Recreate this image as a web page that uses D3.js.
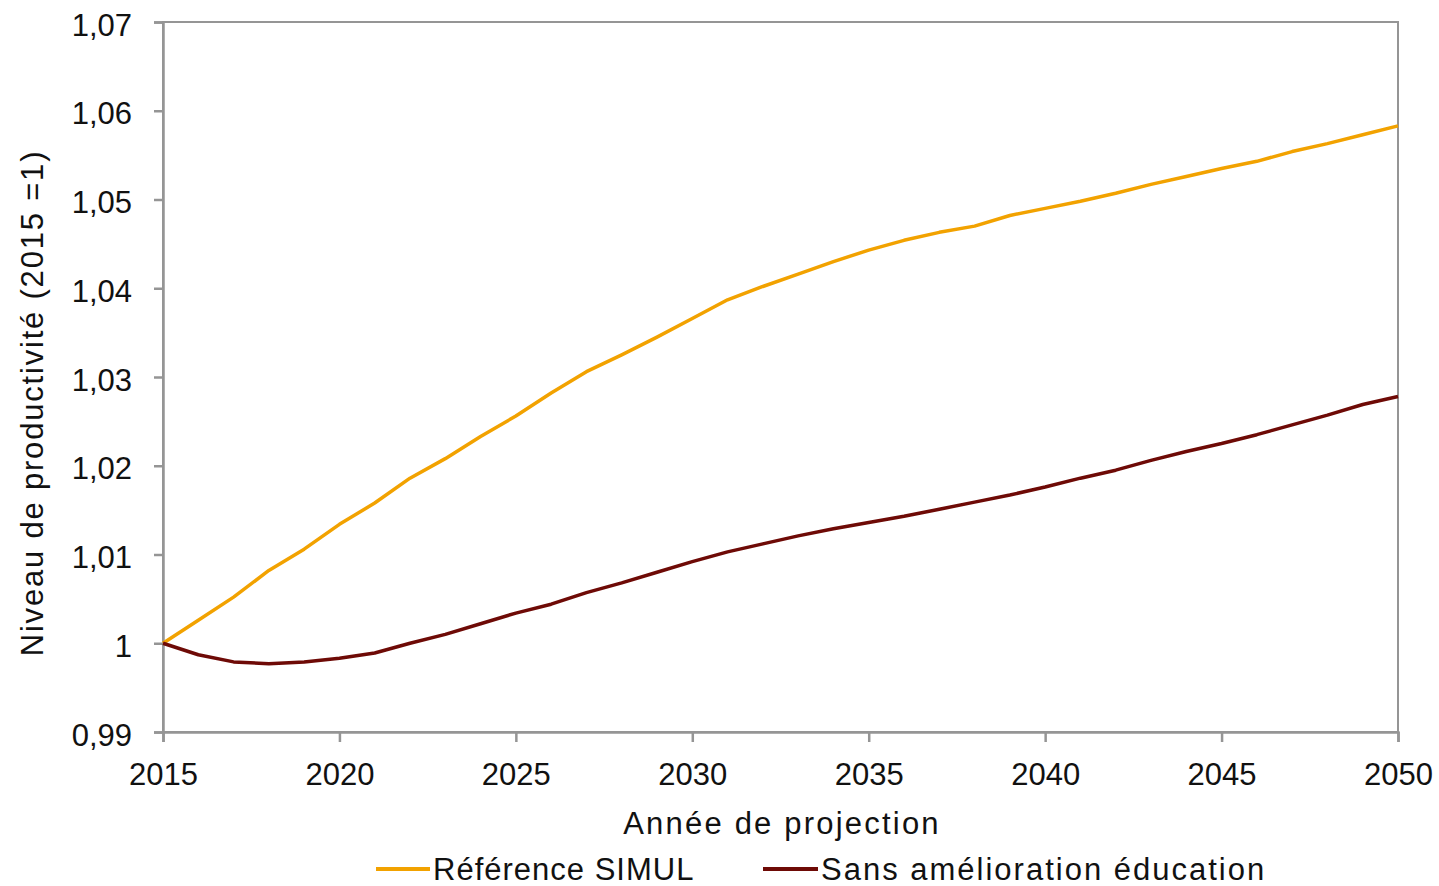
<!DOCTYPE html>
<html><head><meta charset="utf-8">
<script src="https://cdn.jsdelivr.net/npm/d3@7"></script>
<style>body{margin:0;background:#fff;} text{font-family:"Liberation Sans",Arial,sans-serif;fill:#111;}</style>
</head><body><svg id="c" width="1439" height="886"></svg>
<script>
const years = d3.range(2015, 2051);
const referenceSimul = [1.0000,1.0026,1.0052,1.0082,1.0106,1.0134,1.0158,1.0186,1.0208,1.0233,1.0256,1.0282,1.0306,1.0325,1.0345,1.0366,1.0387,1.0402,1.0416,1.0430,1.0443,1.0454,1.0463,1.0470,1.0482,1.0490,1.0498,1.0507,1.0517,1.0526,1.0535,1.0543,1.0554,1.0563,1.0573,1.0583];
const sansAmelioration = [1.0000,0.9987,0.9979,0.9977,0.9979,0.9983,0.9989,1.0000,1.0010,1.0022,1.0034,1.0044,1.0057,1.0068,1.0080,1.0092,1.0103,1.0112,1.0121,1.0129,1.0136,1.0143,1.0151,1.0159,1.0167,1.0176,1.0186,1.0195,1.0206,1.0216,1.0225,1.0235,1.0246,1.0257,1.0269,1.0278];
const yTicks = [0.99,1.00,1.01,1.02,1.03,1.04,1.05,1.06,1.07];
const xTicks = [2015,2020,2025,2030,2035,2040,2045,2050];
const seriesNames = ["Référence SIMUL","Sans amélioration éducation"];
const colors = ["#F2A200","#6E0A06"];

const svg = d3.select("#c");
const L=163,R=1398,T=22,B=732;
const x = d3.scaleLinear().domain([2015,2050]).range([L,R]);
const y = d3.scaleLinear().domain([0.99,1.07]).range([B,T]);
const axisCol="#959595";
const fmt = v => v===1 ? "1" : d3.format(".2f")(v).replace(".",",");

svg.append("rect").attr("x",L).attr("y",T).attr("width",R-L).attr("height",B-T)
  .attr("fill","none").attr("stroke",axisCol).attr("stroke-width",2);

const ya = svg.append("g").attr("transform",`translate(${L},0)`)
  .call(d3.axisLeft(y).tickValues(yTicks).tickFormat(fmt).tickSize(9).tickPadding(22));
const xa = svg.append("g").attr("transform",`translate(0,${B})`)
  .call(d3.axisBottom(x).tickValues(xTicks).tickFormat(d3.format("d")).tickSize(10).tickPadding(21));
[ya,xa].forEach(a=>{
  a.selectAll("path,line").attr("stroke",axisCol).attr("stroke-width",2.5);
  a.selectAll("text").style("font-size","31px").attr("fill","#111");
});
ya.selectAll("text").attr("dy","0.42em");

const line = d3.line().x((d,i)=>x(years[i])).y(d=>y(d));
[referenceSimul,sansAmelioration].forEach((s,k)=>{
  svg.append("path").datum(s).attr("d",line).attr("fill","none")
    .attr("stroke",colors[k]).attr("stroke-width",3.5).attr("stroke-linejoin","round");
});

svg.append("text").attr("transform","translate(43,403) rotate(-90)").attr("text-anchor","middle")
  .style("font-size","31px").style("letter-spacing","1.8px").text("Niveau de productivité (2015 =1)");
svg.append("text").attr("x",782).attr("y",834).attr("text-anchor","middle")
  .style("font-size","31px").style("letter-spacing","2.2px").text("Année de projection");

const lg=[{x1:376,x2:430,tx:433},{x1:763,x2:818,tx:821}];
lg.forEach((p,k)=>{
  svg.append("line").attr("x1",p.x1).attr("x2",p.x2).attr("y1",869).attr("y2",869)
    .attr("stroke",colors[k]).attr("stroke-width",4);
  svg.append("text").attr("x",p.tx).attr("y",880).style("font-size","31px")
    .style("letter-spacing",k===0?"1px":"2px").text(seriesNames[k]);
});
</script></body></html>
